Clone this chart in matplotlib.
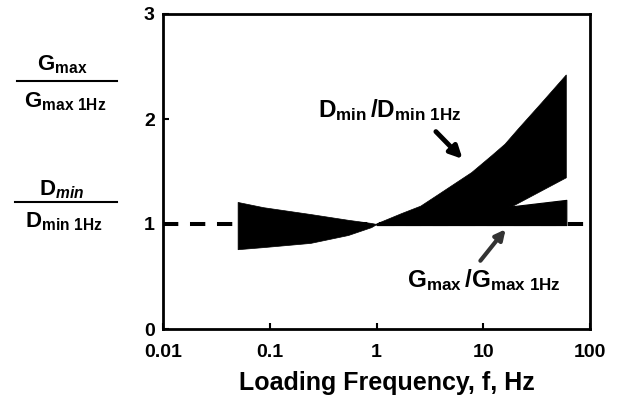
import matplotlib
matplotlib.use("Agg")
import matplotlib.pyplot as plt
from matplotlib.lines import Line2D

# ==========================================
# DATA
# ==========================================
# D_min band below 1 Hz (narrows to 1.0 at 1 Hz)
freq_d_left = [0.05, 0.087, 0.24, 0.54, 0.89, 1.0]
d_left_upper = [1.21, 1.16, 1.095, 1.04, 1.01, 1.0]
d_left_lower = [0.76, 0.78, 0.82, 0.895, 0.97, 1.0]

# D_min band above 1 Hz
freq_d_right = [1.0, 1.73, 2.6, 3.8, 7.8, 12, 16, 21.5, 35, 60]
d_right_upper = [1.0, 1.10, 1.17, 1.28, 1.49, 1.65, 1.76, 1.91, 2.15, 2.42]
freq_d_right_low = [1.0, 19, 60]
d_right_lower = [1.0, 1.17, 1.44]

# G_max band (left part hidden under the D_min band)
freq_g = [1.0, 10, 19, 60]
g_upper = [1.0, 1.2, 1.17, 1.23]
g_lower = [0.99, 0.99, 0.99, 0.99]

x_ticks = [0.01, 0.1, 1, 10, 100]
x_tick_labels = ["0.01", "0.1", "1", "10", "100"]
y_ticks = [0, 1, 2, 3]

# ==========================================
# STYLE
# ==========================================
plt.rcParams['font.family'] = ['Liberation Sans', 'DejaVu Sans']
plt.rcParams['font.weight'] = 'bold'
plt.rcParams['mathtext.fontset'] = 'custom'
plt.rcParams['mathtext.rm'] = 'Liberation Sans:bold'
plt.rcParams['mathtext.bf'] = 'Liberation Sans:bold'
plt.rcParams['mathtext.it'] = 'Liberation Sans:bold:italic'

fig = plt.figure(figsize=(6.22, 4.0), dpi=100)
ax = fig.add_axes([163 / 622, 1 - 329 / 400, (590 - 163) / 622, (329 - 14) / 400])

# bands (thin same-colour edge closes antialias seams)
ax.fill_between(freq_g, g_lower, g_upper, facecolor='black', edgecolor='black', lw=0.8)
ax.fill_between(freq_d_left, d_left_lower, d_left_upper, facecolor='black', edgecolor='black', lw=0.5)
poly_x = list(freq_d_right) + list(freq_d_right_low[::-1])
poly_y = list(d_right_upper) + list(d_right_lower[::-1])
ax.fill(poly_x, poly_y, facecolor='black', edgecolor='black', lw=0.5)

# reference line at 1
ax.axhline(1.0, color='black', lw=2.9, linestyle=(0, (3.8, 2.9)))

ax.set_xscale('log')
ax.set_xlim(0.01, 100)
ax.set_ylim(0, 3)
ax.set_xticks(x_ticks)
ax.set_xticklabels(x_tick_labels)
ax.set_yticks(y_ticks)
ax.minorticks_off()
ax.tick_params(axis='x', direction='in', length=4, width=1.5, labelsize=14, pad=11)
ax.tick_params(axis='y', direction='in', length=4, width=1.5, labelsize=14, pad=6)
for lab in ax.get_xticklabels() + ax.get_yticklabels():
    lab.set_fontweight('bold')
for sp in ax.spines.values():
    sp.set_linewidth(2)

ax.set_xlabel("Loading Frequency, f, Hz", fontsize=18, fontweight='bold', labelpad=7)
ax.xaxis.label.set_x(0.525)

# annotations: text and arrows placed separately
ax.text(1.33, 2.02, r'$\mathrm{D}_{\mathrm{min}}\,/\mathrm{D}_{\mathrm{min\ 1Hz}}$',
        fontsize=17.5, ha='center', va='baseline')
ax.annotate('', xy=(6.4, 1.62), xytext=(3.6, 1.88),
            arrowprops=dict(arrowstyle='-|>', color='black', lw=3.5, mutation_scale=18,
                            shrinkA=0, shrinkB=0))
ax.text(10.1, 0.40, r'$\mathrm{G}_{\mathrm{max}}\,/\mathrm{G}_{\mathrm{max\ 1Hz}}$',
        fontsize=17.5, ha='center', va='baseline')
ax.annotate('', xy=(16.2, 0.95), xytext=(9.4, 0.65),
            arrowprops=dict(arrowstyle='-|>', color='#333333', lw=3, mutation_scale=15,
                            shrinkA=0, shrinkB=0))

# left axis label fractions
fs = 16
fig.text(62 / 622, 1 - 65 / 400, r'$\mathrm{G}_{\mathrm{max}}$', fontsize=fs, ha='center', va='center')
fig.add_artist(Line2D([17 / 622, 117 / 622], [1 - 81 / 400, 1 - 81 / 400], color='black', lw=1.5))
fig.text(65 / 622, 1 - 102 / 400, r'$\mathrm{G}_{\mathrm{max\ 1Hz}}$', fontsize=fs, ha='center', va='center')

fig.text(62 / 622, 1 - 190 / 400, r'$\mathrm{D}_{\mathit{min}}$', fontsize=fs, ha='center', va='center')
fig.add_artist(Line2D([15 / 622, 117 / 622], [1 - 202 / 400, 1 - 202 / 400], color='black', lw=1.5))
fig.text(64 / 622, 1 - 222 / 400, r'$\mathrm{D}_{\mathrm{min\ 1Hz}}$', fontsize=fs, ha='center', va='center')

fig.savefig("out.png", dpi=100)
